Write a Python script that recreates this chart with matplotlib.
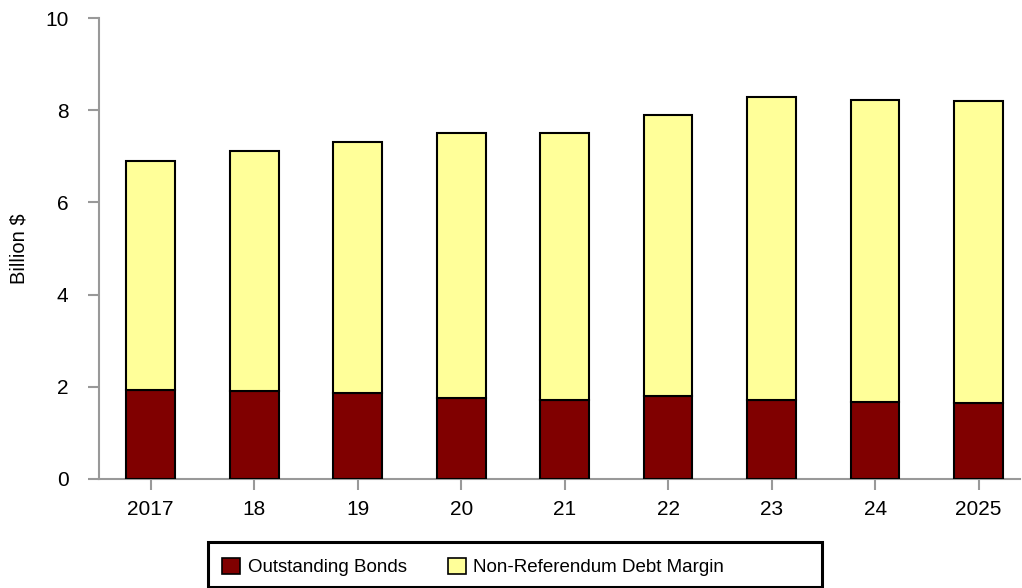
import matplotlib.pyplot as plt
from matplotlib.patches import Patch, Rectangle

plt.rcParams["font.family"] = ["Liberation Sans", "DejaVu Sans"]

# Data
years = ["2017", "18", "19", "20", "21", "22", "23", "24", "2025"]
outstanding_bonds = [1.94, 1.90, 1.86, 1.76, 1.72, 1.81, 1.72, 1.67, 1.64]
total_limit = [6.90, 7.11, 7.32, 7.50, 7.50, 7.89, 8.28, 8.23, 8.19]
debt_margin = [t - b for t, b in zip(total_limit, outstanding_bonds)]

RED = "#800000"
YELLOW = "#FFFF99"
GRAY = "#999999"
W, H = 1022, 588

fig = plt.figure(figsize=(W / 100, H / 100), dpi=100)
ax = fig.add_axes([99 / W, 1 - 479 / H, 921 / W, 461 / H])

x = range(len(years))
ax.bar(x, outstanding_bonds, width=0.47, color=RED, edgecolor="black", linewidth=1.5, zorder=3)
ax.bar(x, debt_margin, width=0.47, bottom=outstanding_bonds, color=YELLOW,
       edgecolor="black", linewidth=1.5, zorder=3)

ax.set_xlim(-0.5, 8.4)
ax.set_ylim(0, 10)
ax.set_yticks([0, 2, 4, 6, 8, 10])
ax.set_xticks(list(x))
ax.set_xticklabels(years)
ax.set_ylabel("Billion $", fontsize=14.5, labelpad=12)

for side in ["top", "right"]:
    ax.spines[side].set_visible(False)
for side in ["left", "bottom"]:
    ax.spines[side].set_color(GRAY)
    ax.spines[side].set_linewidth(1.5)
ax.tick_params(axis="both", colors=GRAY, width=1.5, length=8, labelcolor="black", labelsize=15)
ax.tick_params(axis="y", pad=14)
ax.tick_params(axis="x", pad=7)

# legend box drawn separately so it can be wider than its entries, like the original
fig.add_artist(Rectangle((208 / W, 1 - 587 / H), 614 / W, 45 / H, transform=fig.transFigure,
                         facecolor="white", edgecolor="black", linewidth=2.2, zorder=5))
handles = [
    Patch(facecolor=RED, edgecolor="black", linewidth=1.2, label="Outstanding Bonds"),
    Patch(facecolor=YELLOW, edgecolor="black", linewidth=1.2, label="Non-Referendum Debt Margin"),
]
leg = fig.legend(handles=handles, loc="center left", bbox_to_anchor=(222 / W, 1 - 567 / H), ncol=2,
                 fontsize=13.5, frameon=False, handlelength=0.96, handleheight=0.96,
                 handletextpad=0.4, columnspacing=2.2, borderpad=0.0, borderaxespad=0.0)
leg.set_zorder(6)

fig.savefig("out.png", dpi=100)
